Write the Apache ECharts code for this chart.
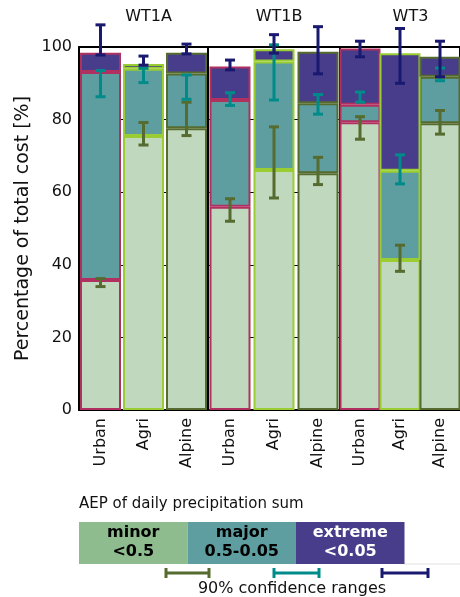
<!DOCTYPE html>
<html>
<head>
<meta charset="utf-8">
<script src="https://cdn.jsdelivr.net/npm/echarts@6/dist/echarts.min.js"></script>
<style>
  html, body { margin: 0; padding: 0; background: #fff; }
  #chart { width: 460px; height: 597px; }
</style>
</head>
<body>
<div id="chart"></div>
<script>
// Weather types (panels) and land-use categories (bars within a panel)
const groups = ['WT1A', 'WT1B', 'WT3'];
const categories = ['Urban', 'Agri', 'Alpine'];

// Share of total cost [%] per AEP class, one row per weather type
const minorShare   = [[35.8, 75.5, 77.6], [56.0, 66.1, 65.2], [79.3, 41.3, 79.0]];
const majorShare   = [[57.3, 18.5, 15.1], [29.4, 29.9, 19.3], [4.8, 24.6, 12.8]];
const extremeShare = [[5.3, 1.3, 5.7],    [9.2, 3.4, 14.2],   [15.5, 32.4, 5.5]];

// 90% confidence ranges of the cumulative share [low, high]
const minorCI = [
  [[34.0, 36.2], [73.0, 79.2], [75.6, 84.8]],
  [[52.0, 58.2], [58.4, 78.0], [62.1, 69.6]],
  [[74.6, 80.8], [38.2, 45.4], [76.0, 82.5]]
];
const majorCI = [
  [[86.3, 93.5], [90.2, 94.1], [85.6, 92.3]],
  [[83.9, 87.4], [85.4, 100.6], [81.5, 86.9]],
  [[84.8, 87.6], [62.3, 70.3], [90.7, 94.2]]
];
const extremeCI = [
  [[97.8, 106.1], [95.0, 97.5], [98.1, 100.8]],
  [[93.7, 96.4], [98.3, 103.4], [92.6, 105.6]],
  [[97.3, 101.6], [90.0, 105.1], [91.8, 101.6]]
];

// Y axis ticks
const yMin = 0, yMax = 100, yStep = 20;

// Styling
const FONT = 'DejaVu Sans';
const classNames = ['minor', 'major', 'extreme'];
const barFill = ['#c0d8bd', '#5f9ea0', '#483d8b'];
const legendFill = ['#8fbc8f', '#5f9ea0', '#483d8b'];
const ciColor = ['#556b2f', '#008b8b', '#191970'];
const outline = { Urban: '#b03060', Agri: '#9acd32', Alpine: '#556b2f' };

const panels = [
  { left: 79, width: 129 },
  { left: 208, width: 132 },
  { left: 340, width: 131 }
];

const grids = [], xAxes = [], yAxes = [], series = [], titles = [];

panels.forEach((p, g) => {
  grids.push({
    left: p.left, width: p.width, top: 47, bottom: 187,
    show: true, borderColor: '#000', borderWidth: 2, backgroundColor: 'transparent'
  });
  xAxes.push({
    type: 'category', gridIndex: g, data: categories,
    axisLine: { show: true, lineStyle: { color: '#000', width: 2 } },
    axisTick: { show: false },
    axisLabel: { rotate: 90, margin: 8, fontFamily: FONT, fontSize: 16, color: '#111' }
  });
  yAxes.push({
    type: 'value', gridIndex: g, min: yMin, max: yMax, interval: yStep,
    name: g === 0 ? 'Percentage of total cost [%]' : '',
    nameLocation: 'middle', nameGap: 46,
    nameTextStyle: { fontFamily: FONT, fontSize: 19, color: '#111' },
    axisLine: { show: true, lineStyle: { color: '#000', width: 2 } },
    axisTick: { show: g === 0, inside: true, length: 5, lineStyle: { color: '#000' } },
    minorTick: { show: g === 0, splitNumber: 2, length: 4, lineStyle: { color: '#000' } },
    axisLabel: { show: g === 0, margin: 7, fontFamily: FONT, fontSize: 16, color: '#111' },
    splitLine: { show: true, lineStyle: { color: '#000', width: 1 } }
  });
  titles.push({
    text: groups[g], left: p.left + p.width / 2, top: 4, textAlign: 'center',
    textStyle: { fontFamily: FONT, fontSize: 16, fontWeight: 'normal', color: '#111' }
  });

  // stacked bars: minor, major, extreme
  [minorShare, majorShare, extremeShare].forEach((share, k) => {
    series.push({
      type: 'bar', name: classNames[k], xAxisIndex: g, yAxisIndex: g,
      stack: 'cost' + g, barWidth: 41, z: 2,
      data: share[g].map((v, i) => ({
        value: v,
        itemStyle: { color: barFill[k], borderColor: outline[categories[i]], borderWidth: 2 }
      }))
    });
  });

  // confidence ranges as I-shaped error bars
  [minorCI, majorCI, extremeCI].forEach((ci, k) => {
    series.push({
      type: 'custom', name: classNames[k] + ' CI', xAxisIndex: g, yAxisIndex: g,
      clip: false, z: 5,
      data: ci[g].map((r, i) => [i, r[0], r[1]]),
      renderItem: (params, api) => {
        const lo = api.coord([api.value(0), api.value(1)]);
        const hi = api.coord([api.value(0), api.value(2)]);
        const hw = 5;
        const style = { stroke: ciColor[k], lineWidth: 3 };
        return {
          type: 'group',
          children: [
            { type: 'line', shape: { x1: lo[0], y1: lo[1], x2: hi[0], y2: hi[1] }, style },
            { type: 'line', shape: { x1: lo[0] - hw, y1: lo[1], x2: lo[0] + hw, y2: lo[1] }, style },
            { type: 'line', shape: { x1: hi[0] - hw, y1: hi[1], x2: hi[0] + hw, y2: hi[1] }, style }
          ]
        };
      }
    });
  });
});

// Legend drawn below the chart
const legendLabels = [['minor', '<0.5'], ['major', '0.5-0.05'], ['extreme', '<0.05']];
const boxX = [79, 187.5, 296], boxW = 108.5, boxY = 522, boxH = 42;
const graphic = [
  { type: 'text', left: 79, top: 497,
    style: { text: 'AEP of daily precipitation sum', font: '15px "DejaVu Sans"', fill: '#111' } },
  { type: 'line', shape: { x1: 404, y1: 564, x2: 460, y2: 564 }, style: { stroke: '#e2e2e2', lineWidth: 1 } }
];
legendLabels.forEach((lab, k) => {
  graphic.push({ type: 'rect', shape: { x: boxX[k], y: boxY, width: boxW, height: boxH },
    style: { fill: legendFill[k] } });
  graphic.push({ type: 'text', x: boxX[k] + boxW / 2, y: boxY + 11,
    style: { text: lab[0], font: 'bold 16px "DejaVu Sans"', fill: k === 2 ? '#fff' : '#000',
      textAlign: 'center', textVerticalAlign: 'middle' } });
  graphic.push({ type: 'text', x: boxX[k] + boxW / 2, y: boxY + 30,
    style: { text: lab[1], font: 'bold 16px "DejaVu Sans"', fill: k === 2 ? '#fff' : '#000',
      textAlign: 'center', textVerticalAlign: 'middle' } });
});
const ciKeyX = [[166, 209], [274, 319], [382, 428]];
ciKeyX.forEach((xs, k) => {
  const y = 573, st = { stroke: ciColor[k], lineWidth: 3 };
  graphic.push({ type: 'line', shape: { x1: xs[0], y1: y, x2: xs[1], y2: y }, style: st });
  graphic.push({ type: 'line', shape: { x1: xs[0], y1: y - 5, x2: xs[0], y2: y + 5 }, style: st });
  graphic.push({ type: 'line', shape: { x1: xs[1], y1: y - 5, x2: xs[1], y2: y + 5 }, style: st });
});
graphic.push({ type: 'text', x: 292, y: 589,
  style: { text: '90% confidence ranges', font: '16px "DejaVu Sans"', fill: '#111',
    textAlign: 'center', textVerticalAlign: 'middle' } });

const chart = echarts.init(document.getElementById('chart'), null, { renderer: 'canvas' });
chart.setOption({
  animation: false,
  backgroundColor: '#fff',
  textStyle: { fontFamily: FONT },
  title: titles,
  grid: grids,
  xAxis: xAxes,
  yAxis: yAxes,
  series: series,
  graphic: graphic
});
</script>
</body>
</html>
